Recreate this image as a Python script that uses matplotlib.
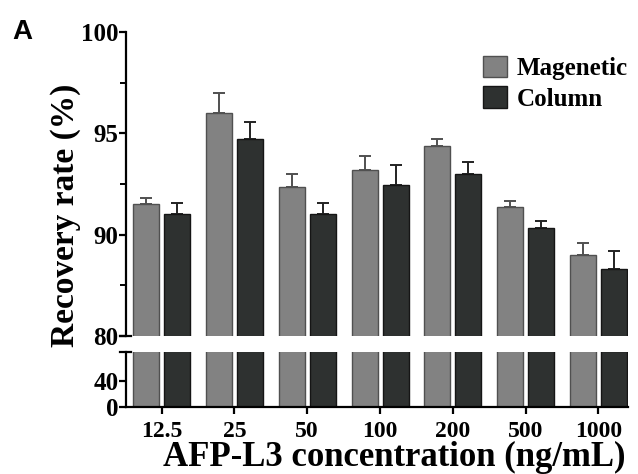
import numpy as np
import matplotlib
matplotlib.use("Agg")
import matplotlib.pyplot as plt

# data
concentrations = ["12.5", "25", "50", "100", "200", "500", "1000"]
magenetic = [91.5, 96.0, 92.35, 93.2, 94.4, 91.35, 88.0]
magenetic_err = [0.3, 1.0, 0.65, 0.7, 0.3, 0.32, 1.15]
column = [91.0, 94.7, 91.0, 92.45, 93.0, 90.35, 86.6]
column_err = [0.57, 0.88, 0.57, 0.98, 0.57, 0.32, 1.8]

mag_color = "#828282"
mag_edge = "#505050"
col_color = "#2e3130"
col_edge = "#151515"
serif = "Liberation Serif"

plt.rcParams["font.family"] = serif
plt.rcParams["font.weight"] = "bold"


# upper axis: 90-100 at full scale, 80-90 squeezed to half
def fwd(y):
    y = np.asarray(y, dtype=float)
    return np.where(y >= 90, y, 90 - (90 - y) / 2.0)


def inv(p):
    p = np.asarray(p, dtype=float)
    return np.where(p >= 90, p, 90 - (90 - p) * 2.0)


fig = plt.figure(figsize=(6.38, 4.74), dpi=100)
ax_top = fig.add_axes([0.197, 0.291, 0.787, 0.6415])
ax_bot = fig.add_axes([0.197, 0.142, 0.787, 0.115])

x = np.arange(len(concentrations))
w = 0.357
off = 0.213

ax_top.set_yscale("function", functions=(fwd, inv))

for ax in (ax_top, ax_bot):
    ax.bar(x - off, magenetic, w, color=mag_color, edgecolor=mag_edge,
           linewidth=1.0, label="Magenetic", zorder=2)
    ax.bar(x + off, column, w, color=col_color, edgecolor=col_edge,
           linewidth=1.0, label="Column", zorder=2)
    ax.set_xlim(-0.495, 6.405)
    for s in ("top", "right"):
        ax.spines[s].set_visible(False)
    ax.spines["left"].set_linewidth(1.6)
    ax.spines["bottom"].set_linewidth(1.6)

ax_top.errorbar(x - off, magenetic, yerr=[np.zeros(7), magenetic_err], fmt="none",
                ecolor=mag_edge, elinewidth=1.4, capsize=4, capthick=1.4, zorder=1)
ax_top.errorbar(x + off, column, yerr=[np.zeros(7), column_err], fmt="none",
                ecolor="#222222", elinewidth=1.4, capsize=4, capthick=1.4, zorder=1)

ax_top.set_ylim(80, 100)
ax_top.set_yticks([80, 90, 95, 100])
ax_top.set_yticklabels(["80", "90", "95", "100"], fontsize=18)
ax_top.set_yticks([85, 92.5, 97.5], minor=True)
ax_top.tick_params(axis="y", which="major", width=1.6, length=5, pad=0)
ax_top.tick_params(axis="y", which="minor", width=1.4, length=4)
ax_top.spines["bottom"].set_visible(False)
ax_top.set_xticks([])

ax_bot.set_ylim(0, 85)
ax_bot.set_yticks([0, 40])
ax_bot.set_yticklabels(["0", "40"], fontsize=18)
ax_bot.tick_params(axis="y", width=1.6, length=5, pad=0)
ax_bot.set_xticks(x)
ax_bot.set_xticklabels(concentrations, fontsize=17)
ax_bot.tick_params(axis="x", width=1.6, length=5, pad=5)

# break marks
ax_top.plot([-0.011, 0.011], [0, 0], transform=ax_top.transAxes,
            color="black", lw=1.6, clip_on=False)
ax_bot.plot([-0.011, 0.011], [1, 1], transform=ax_bot.transAxes,
            color="black", lw=1.6, clip_on=False)

fig.text(0.102, 0.545, "Recovery rate (%)", rotation=90, ha="center", va="center",
         fontweight="bold", fontsize=24)
fig.text(0.618, 0.034, "AFP-L3 concentration (ng/mL)", ha="center", va="center",
         fontweight="bold", fontsize=25)
fig.text(0.019, 0.932, "A", family="Liberation Sans", fontweight="bold", fontsize=20,
         va="center")

ax_top.legend(loc="upper right", bbox_to_anchor=(1.02, 0.955), frameon=False,
              prop={"family": serif, "weight": "bold", "size": 18},
              handlelength=0.95, handleheight=0.95, handletextpad=0.4,
              labelspacing=0.25, borderaxespad=0)

fig.savefig("out.png", dpi=100)
